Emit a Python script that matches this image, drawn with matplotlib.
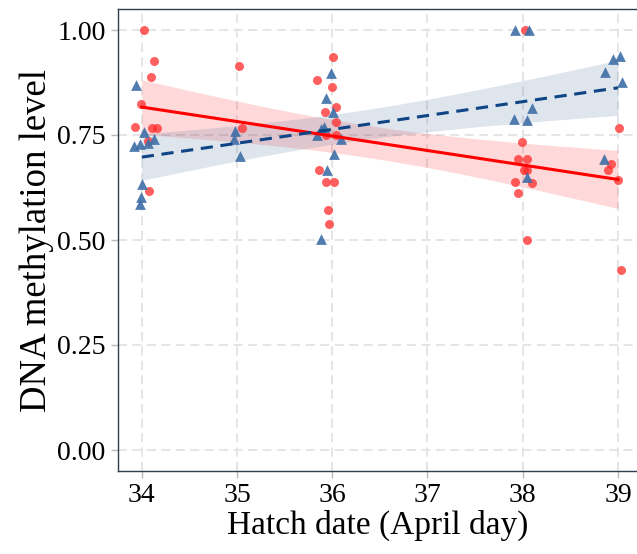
import math

import matplotlib

matplotlib.use("Agg")
import matplotlib.pyplot as plt
import numpy as np

# red circles (jittered hatch date, methylation level)
RED_X = [34.02, 34.13, 34.10, 33.99, 33.93, 34.11, 34.16, 34.06, 34.08,
         35.02, 35.05,
         36.01, 35.84, 36.00, 36.04, 35.92, 36.04, 35.93, 36.04, 35.86, 35.93,
         36.02, 35.95, 35.97,
         38.02, 37.99, 37.95, 38.04, 38.01, 38.05, 37.92, 38.10, 37.95, 38.05,
         39.01, 38.93, 38.90, 39.00, 39.03]
RED_Y = [1.000, 0.927, 0.889, 0.824, 0.770, 0.766, 0.766, 0.736, 0.616,
         0.915, 0.766,
         0.935, 0.881, 0.864, 0.816, 0.804, 0.781, 0.751, 0.751, 0.667, 0.637,
         0.637, 0.572, 0.539,
         1.000, 0.734, 0.694, 0.694, 0.667, 0.667, 0.637, 0.635, 0.612, 0.500,
         0.766, 0.682, 0.667, 0.644, 0.428]

# blue triangles
BLUE_X = [33.94, 34.02, 33.92, 33.98, 34.07, 34.13, 34.00, 33.99, 33.98,
          34.98, 34.97, 35.03,
          35.99, 35.93, 36.01, 35.88, 35.91, 35.84, 36.09, 36.02, 35.94, 35.88,
          37.92, 38.07, 38.10, 37.91, 38.05, 38.04,
          38.95, 39.02, 38.86, 39.04, 38.85]
BLUE_Y = [0.869, 0.758, 0.725, 0.729, 0.731, 0.741, 0.633, 0.602, 0.586,
          0.760, 0.740, 0.701,
          0.897, 0.837, 0.804, 0.764, 0.769, 0.751, 0.740, 0.705, 0.666, 0.503,
          1.000, 1.000, 0.815, 0.789, 0.786, 0.650,
          0.930, 0.938, 0.899, 0.877, 0.694]

X_TICKS = [34, 35, 36, 37, 38, 39]
Y_TICKS = [0.00, 0.25, 0.50, 0.75, 1.00]

FONT = "Liberation Serif"


def t_quantile(p, df):
    """Student t quantile via numeric integration (no scipy)."""
    grid = np.linspace(0, 10, 20001)
    logc = math.lgamma((df + 1) / 2) - math.lgamma(df / 2) - 0.5 * math.log(df * math.pi)
    pdf = np.exp(logc) * (1 + grid**2 / df) ** (-(df + 1) / 2)
    cdf = 0.5 + np.concatenate([[0], np.cumsum((pdf[1:] + pdf[:-1]) / 2 * np.diff(grid))])
    return float(np.interp(p, cdf, grid))


def fit_band(x, y):
    x = np.round(np.asarray(x))
    y = np.asarray(y)
    n = len(x)
    slope, intercept = np.polyfit(x, y, 1)
    resid = y - (slope * x + intercept)
    s = np.sqrt(np.sum(resid**2) / (n - 2))
    xs = np.linspace(x.min(), x.max(), 100)
    fit = slope * xs + intercept
    se = s * np.sqrt(1 / n + (xs - x.mean()) ** 2 / np.sum((x - x.mean()) ** 2))
    t = t_quantile(0.975, n - 2)
    return xs, fit, fit - t * se, fit + t * se


fig = plt.figure(figsize=(6.37, 5.54), dpi=100)
ax = fig.add_axes([118 / 637, 83 / 554, 519 / 637, 462 / 554])

ax.set_xlim(33.75, 39.2)
ax.set_ylim(-0.05, 1.05)

ax.grid(True, color="#e3e3e3", linestyle=(0, (5, 3)), linewidth=1.3)
ax.set_axisbelow(True)

xs, fit, lo, hi = fit_band(RED_X, RED_Y)
ax.fill_between(xs, lo, hi, color="#ff0000", alpha=0.15, linewidth=0, zorder=2)
xb, fitb, lob, hib = fit_band(BLUE_X, BLUE_Y)
ax.fill_between(xb, lob, hib, color="#4a6f9f", alpha=0.18, linewidth=0, zorder=2)

ax.scatter(RED_X, RED_Y, s=42, color="#ff2a2a", alpha=0.75, linewidths=0, zorder=3)
ax.scatter(BLUE_X, BLUE_Y, s=60, marker="^", color="#3e6ea6", alpha=0.9,
           linewidths=0, zorder=3)

ax.plot(xs, fit, color="#ff0000", linewidth=2.2, zorder=4)
ax.plot(xb, fitb, color="#0f4585", linewidth=2.2, linestyle=(0, (4, 2.5)), zorder=4)

ax.set_xticks(X_TICKS)
ax.set_yticks(Y_TICKS)
ax.set_yticklabels([f"{v:.2f}" for v in Y_TICKS])
ax.tick_params(axis="both", length=5, width=1, color="#bbbbbb",
               labelcolor="black", labelsize=20, pad=4)
for lab in ax.get_xticklabels() + ax.get_yticklabels():
    lab.set_fontfamily(FONT)

for side in ["left", "bottom", "top"]:
    ax.spines[side].set_color("#2c3e50")
    ax.spines[side].set_linewidth(1.0)
ax.spines["right"].set_visible(False)

ax.set_xlabel("Hatch date (April day)", fontsize=24, family=FONT, labelpad=1)
ax.set_ylabel("DNA methylation level", fontsize=26.5, family=FONT, labelpad=2)

fig.savefig("out.png", dpi=100)
